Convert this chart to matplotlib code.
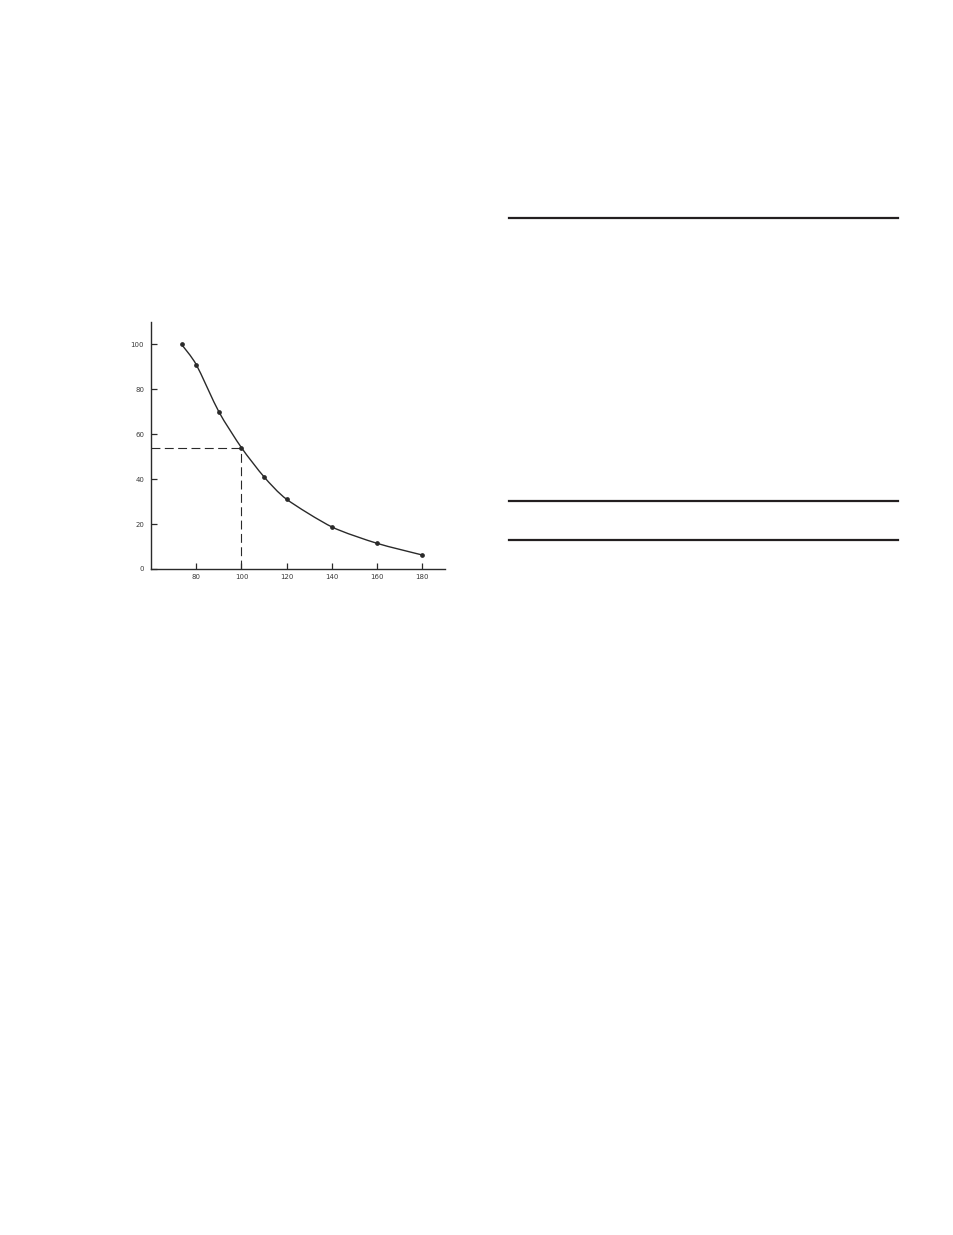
import numpy as np
import matplotlib.pyplot as plt
from matplotlib.lines import Line2D
from matplotlib.path import Path
from matplotlib.patches import PathPatch

# values
x_vals = [73.5, 80, 90, 100, 110, 120, 140, 160, 180]
y_vals = [100, 91, 70, 54, 41, 31, 18.7, 11.4, 6.2]
x_ticks = [80, 100, 120, 140, 160, 180]
y_ticks = [0, 20, 40, 60, 80, 100]
ref_x, ref_y = 100, 54

fig = plt.figure(figsize=(9.54, 12.35), dpi=100)
ax = fig.add_axes([0.1583, 0.5393, 0.3082, 0.2])

ink = '#2a2a2a'

# smooth line through the points (bezier segments, like a drawn french curve)
p = np.column_stack([x_vals, y_vals])
verts = [p[0]]
codes = [Path.MOVETO]
k = 8
for i in range(len(p) - 1):
    p0 = p[i - 1] if i > 0 else p[i]
    p3 = p[i + 2] if i + 2 < len(p) else p[i + 1]
    c1 = p[i] + (p[i + 1] - p0) / k
    c2 = p[i + 1] - (p3 - p[i]) / k
    verts += [c1, c2, p[i + 1]]
    codes += [Path.CURVE4] * 3
ax.add_patch(PathPatch(Path(verts, codes), fill=False, ec=ink, lw=1.0))
ax.plot(x_vals, y_vals, ls='none', marker='o', ms=2.4, mfc=ink, mec=ink)

# dashed guide lines to the reference point
ax.plot([60, ref_x], [ref_y, ref_y], color=ink, lw=0.8, ls=(0, (8, 4)))
ax.plot([ref_x, ref_x], [0, ref_y], color=ink, lw=0.8, ls=(0, (8, 4)))

ax.set_xlim(60, 190)
ax.set_ylim(0, 110)
ax.set_xticks(x_ticks)
ax.set_yticks(y_ticks)
ax.set_xticklabels([str(t) for t in x_ticks])
ax.set_yticklabels([str(t) for t in y_ticks])
ax.tick_params(direction='in', length=4, width=0.9, colors=ink,
               labelsize=5, labelcolor='#3a3a3a')
ax.tick_params(axis='x', pad=3.5)
ax.tick_params(axis='y', pad=5)
for s in ['top', 'right']:
    ax.spines[s].set_visible(False)
for s in ['left', 'bottom']:
    ax.spines[s].set_color(ink)
    ax.spines[s].set_linewidth(1.0)

# table rules on the right side of the page
W, H = 954, 1235
for yp in [218, 501, 540]:
    fig.add_artist(Line2D([509 / W, 898 / W], [1 - yp / H, 1 - yp / H],
                          color='#231f20', lw=1.6, transform=fig.transFigure))

fig.savefig('out.png', dpi=100)
